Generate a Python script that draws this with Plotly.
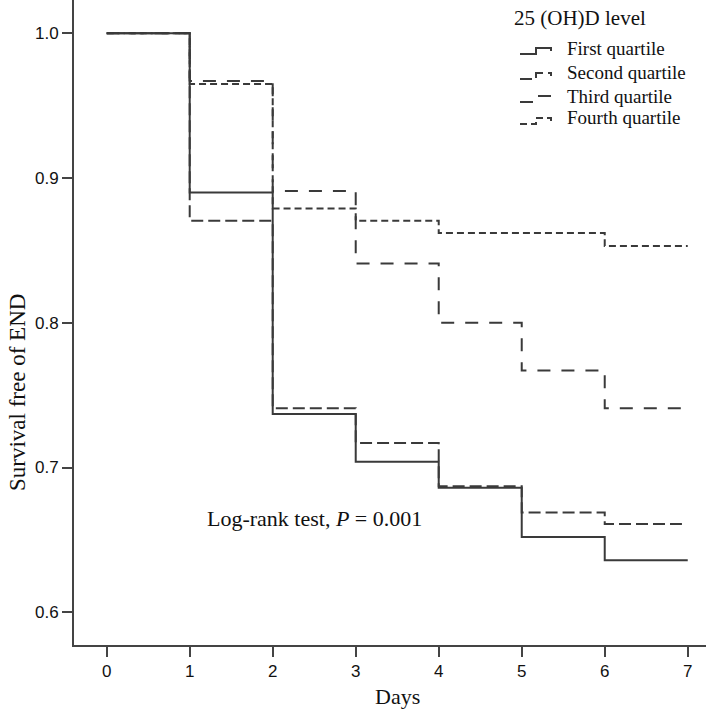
import plotly.graph_objects as go

# ---- data ----
step_days = [0, 1, 2, 3, 4, 5, 6]
series_names = ["First quartile", "Second quartile", "Third quartile", "Fourth quartile"]
first_q = [1.0, 0.890, 0.737, 0.704, 0.686, 0.652, 0.636]
second_q = [1.0, 0.8705, 0.741, 0.717, 0.687, 0.669, 0.661]
third_q = [1.0, 0.967, 0.891, 0.841, 0.800, 0.767, 0.741]
fourth_q = [1.0, 0.965, 0.879, 0.8705, 0.862, 0.862, 0.853]
last_day = [7.0, 6.93, 6.97, 7.0]
x_ticks = [0, 1, 2, 3, 4, 5, 6, 7]
y_ticks = [0.6, 0.7, 0.8, 0.9, 1.0]
legend_title = "25 (OH)D level"

values = [first_q, second_q, third_q, fourth_q]
dashes = ["solid", "12px,5px", "13px,11px", "7px,4px"]
line_color = "#3a3a3a"
text_color = "#111"

W, H = 709, 709
ML, MR, MT, MB = 74, 3, 0, 64
PW, PH = W - ML - MR, H - MT - MB


def px_x(p):
    return (p - ML) / PW


def px_y(p):
    return 1 - (p - MT) / PH


fig = go.Figure()
for name, surv, end, dash in zip(series_names, values, last_day, dashes):
    fig.add_trace(go.Scatter(
        x=step_days + [end],
        y=surv + [surv[-1]],
        mode="lines",
        line=dict(shape="hv", color=line_color, width=2, dash=dash),
        name=name,
        showlegend=False,
    ))

serif = "Liberation Serif, Times New Roman, serif"
sans = "Liberation Sans, Arial, sans-serif"

annotations = [
    dict(text="Log-rank test, <i>P</i> = 0.001", x=2.5, y=0.665, xref="x", yref="y",
         showarrow=False, xanchor="center", yanchor="middle",
         font=dict(family=serif, size=22, color=text_color)),
    dict(text="Days", x=3.5, y=px_y(696), xref="x", yref="paper",
         showarrow=False, xanchor="center", yanchor="middle",
         font=dict(family=serif, size=22, color=text_color)),
    dict(text="Survival free of END", x=px_x(18), y=0.7515, xref="paper", yref="y",
         showarrow=False, xanchor="center", yanchor="middle", textangle=-90,
         font=dict(family=serif, size=23, color=text_color)),
    dict(text=legend_title, x=px_x(512), y=px_y(18), xref="paper", yref="paper",
         showarrow=False, xanchor="left", yanchor="middle",
         font=dict(family=serif, size=21, color=text_color)),
]

# hand-drawn legend (step-shaped keys like the reference)
shapes = []
item_y = [48, 73, 96, 118]
for name, dash, yc in zip(series_names, dashes, item_y):
    annotations.append(dict(text=name, x=px_x(565), y=px_y(yc), xref="paper", yref="paper",
                            showarrow=False, xanchor="left", yanchor="middle",
                            font=dict(family=serif, size=19, color=text_color)))
    x0, xm, x1 = px_x(520), px_x(536), px_x(551)
    ylo, yhi = px_y(yc + 6), px_y(yc)
    path = f"M {x0} {ylo} L {xm} {ylo} L {xm} {yhi} L {x1} {yhi} L {x1} {px_y(yc + 3)}"
    shapes.append(dict(type="path", path=path, xref="paper", yref="paper",
                       line=dict(color=line_color, width=2, dash=dash)))

fig.update_layout(
    width=W, height=H,
    margin=dict(l=ML, r=MR, t=MT, b=MB),
    paper_bgcolor="white", plot_bgcolor="white",
    showlegend=False,
    xaxis=dict(
        range=[-0.394, 7.22], tickvals=x_ticks, ticktext=[str(t) for t in x_ticks],
        showline=True, linecolor="#444", linewidth=2, mirror=False,
        ticks="outside", ticklen=10, tickwidth=2, tickcolor="#444",
        showgrid=False, zeroline=False,
        tickfont=dict(family=sans, size=17, color=text_color),
    ),
    yaxis=dict(
        range=[0.5774, 1.023], tickvals=y_ticks, ticktext=[f"{t:.1f}" for t in y_ticks],
        showline=True, linecolor="#444", linewidth=2, mirror=False,
        ticks="outside", ticklen=10, tickwidth=2, tickcolor="#444",
        showgrid=False, zeroline=False,
        tickfont=dict(family=sans, size=17, color=text_color),
    ),
    annotations=annotations,
    shapes=shapes,
)

fig.write_html("out.html", config={"displayModeBar": False},
               post_script="document.body.style.margin='0';")
